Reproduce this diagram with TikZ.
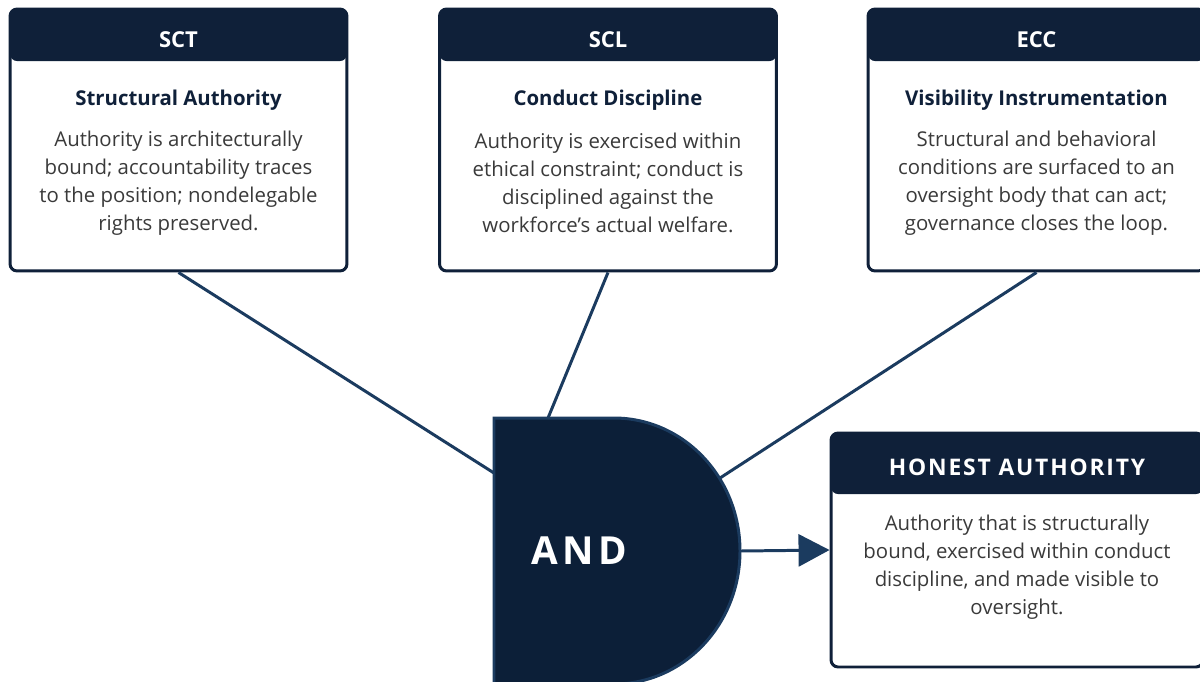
\documentclass[tikz,border=0pt]{standalone}
\usepackage{fontspec}
\setmainfont{Open Sans}
\newfontfamily\spacedfont{Open Sans}[LetterSpace=8]
\newfontfamily\gatefont{Open Sans}[LetterSpace=12]
\usetikzlibrary{arrows.meta, positioning}

\definecolor{navy}{HTML}{0F2039}
\definecolor{gatefill}{HTML}{0C1F38}
\definecolor{wire}{HTML}{1B3B5F}
\definecolor{bodygray}{HTML}{3A3A3A}

\tikzset{
  card/.style={draw=navy, line width=1.7pt, rounded corners=4pt, fill=white,
    inner sep=0pt, minimum width=6.74cm, minimum height=5.24cm,
    path picture={\fill[navy] (path picture bounding box.north west)
      rectangle ([yshift=-#1]path picture bounding box.north east);}},
  headtxt/.style={text=white, font=\bfseries\fontsize{12.5}{15}\selectfont},
  subtxt/.style={text=navy, font=\bfseries\fontsize{11.6}{15}\selectfont},
  bodytxt/.style={text=bodygray, align=center, font=\fontsize{11.6}{15.9}\selectfont},
  wireline/.style={draw=wire, line width=1.7pt},
}

\begin{document}
\begin{tikzpicture}[x=0.02cm, y=-0.02cm]
  \useasboundingbox (0,0) rectangle (1200,681);
  \clip (0,0) rectangle (1200,681);
  % Inputs of the gate
  \coordinate (gate-in1) at (494,473);
  \coordinate (gate-in2) at (548,418);
  \coordinate (gate-in3) at (720,478);
  \coordinate (gate-out) at (740,551);
  % Cards
  \node[card=1.04cm] (sct) at (178.5,140) {};
  \node[card=1.04cm] (scl) at (608,140) {};
  \node[card=1.04cm] (ecc) at (1036.5,140) {};
  \node[card=1.22cm, minimum width=7.44cm, minimum height=4.68cm] (hon) at (1017,550) {};
  % Wires
  \draw[wireline] (sct.south) -- (gate-in1);
  \draw[wireline] (scl.south) -- (gate-in2);
  \draw[wireline] (ecc.south) -- (gate-in3);
  \draw[wireline, -{Triangle[length=0.62cm, width=0.64cm]}] (gate-out) -- (hon.west);
  % Gate
  \draw[fill=gatefill, draw=wire, line width=1.7pt]
    (494,418) -- (614,418) .. controls (683.6,418) and (740,477.5) .. (740,551)
    .. controls (740,624.5) and (683.6,684) .. (614,684) -- (494,684) -- cycle;
  \node[text=white, font=\gatefont\bfseries\fontsize{22}{26}\selectfont] (gate) at (579,551) {AND};
  % Card texts
  \node[headtxt] (sct-h) at (178.5,40) {SCT};
  \node[subtxt] (sct-t) at (178.5,100) {Structural Authority};
  \node[bodytxt] (sct-b) at (178.5,183) {Authority is architecturally\\bound; accountability traces\\to the position; nondelegable\\rights preserved.};
  \node[headtxt] (scl-h) at (608,40) {SCL};
  \node[subtxt] (scl-t) at (608,100) {Conduct Discipline};
  \node[bodytxt] (scl-b) at (608,183) {Authority is exercised within\\ethical constraint; conduct is\\disciplined against the\\workforce’s actual welfare.};
  \node[headtxt] (ecc-h) at (1036.5,40) {ECC};
  \node[subtxt] (ecc-t) at (1036.5,100) {Visibility Instrumentation};
  \node[bodytxt] (ecc-b) at (1036.5,183) {Structural and behavioral\\conditions are surfaced to an\\oversight body that can act;\\governance closes the loop.};
  \node[headtxt, font=\spacedfont\bfseries\fontsize{13}{15}\selectfont] (hon-h) at (1017,467) {HONEST AUTHORITY};
  \node[bodytxt] (hon-b) at (1017,567.5) {Authority that is structurally\\bound, exercised within conduct\\discipline, and made visible to\\oversight.};
\end{tikzpicture}
\end{document}
